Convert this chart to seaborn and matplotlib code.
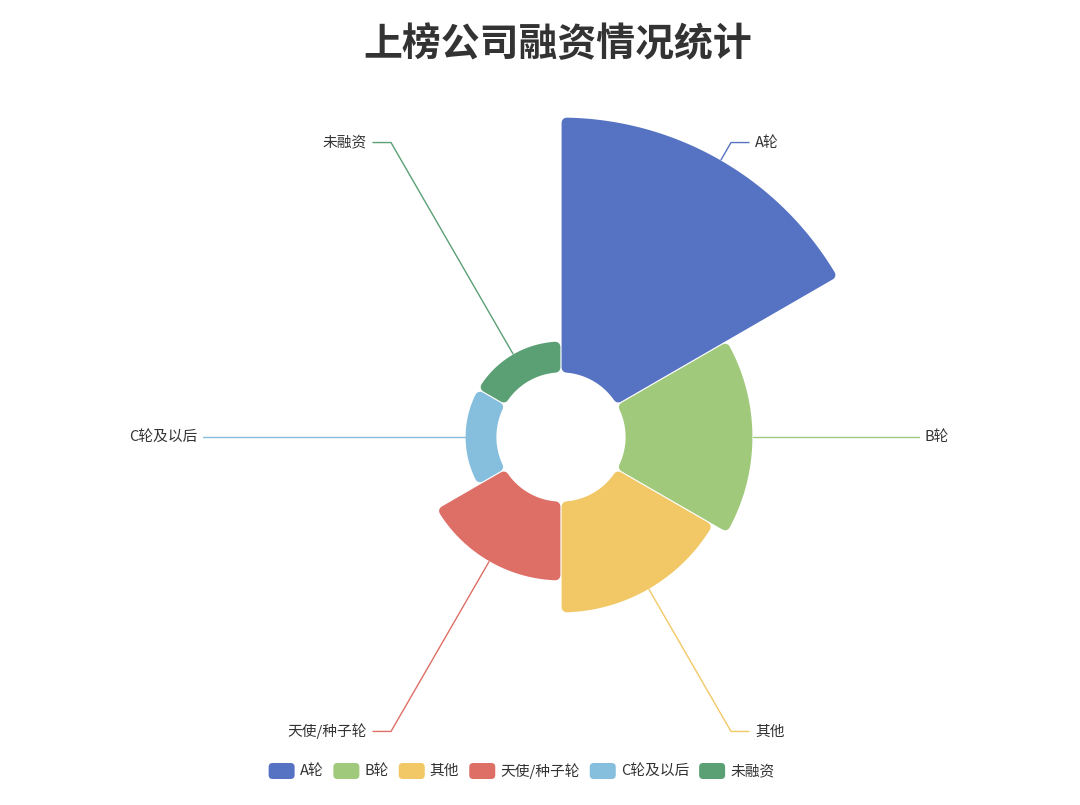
import numpy as np
import matplotlib
matplotlib.use("Agg")
import matplotlib.pyplot as plt
from matplotlib.path import Path
from matplotlib.patches import PathPatch, FancyBboxPatch
import seaborn as sns

# ---- data ----
categories = ["A轮", "B轮", "其他", "天使/种子轮", "C轮及以后", "未融资"]
values = [32, 16, 14, 10, 4, 4]
colors = ["#5672C2", "#A0C97B", "#F2C866", "#DE6F66", "#86BFDD", "#5BA074"]
title = "上榜公司融资情况统计"

sns.set_theme(style="white")
plt.rcParams["font.family"] = ["Noto Sans CJK SC", "DejaVu Sans"]
palette = sns.color_palette(colors)

W, H = 1080, 805
fig = plt.figure(figsize=(W / 100, H / 100), dpi=100)
ax = fig.add_axes([0, 0, 1, 1])
ax.set_xlim(0, W)
ax.set_ylim(H, 0)
ax.axis("off")

cx, cy = 561, 437
r0, rmax = 64, 320
corner = 5.0     # px corner radius
gap = 0.6        # px half gap between sectors
d = corner + gap
lw_pt = 2 * corner * 72 / 100

n = len(values)
vmax = max(values)
step = 360.0 / n  # rose type 'area': equal angles


def pt(theta_deg, r):
    t = np.deg2rad(theta_deg)
    return cx + r * np.sin(t), cy - r * np.cos(t)


for i, (v, col) in enumerate(zip(values, palette)):
    R = r0 + (rmax - r0) * v / vmax
    a1, a2 = i * step, (i + 1) * step
    ro, ri = R - d, r0 + d
    do = np.rad2deg(d / ro)
    di = np.rad2deg(d / ri)
    ang_o = np.linspace(a1 + do, a2 - do, 80)
    ang_i = np.linspace(a2 - di, a1 + di, 40)
    verts = [pt(a, ro) for a in ang_o] + [pt(a, ri) for a in ang_i]
    verts.append(verts[0])
    codes = [Path.MOVETO] + [Path.LINETO] * (len(verts) - 2) + [Path.CLOSEPOLY]
    patch = PathPatch(Path(verts, codes), facecolor=col, edgecolor=col,
                      linewidth=lw_pt, joinstyle="round", zorder=2)
    ax.add_patch(patch)

    # label with leader line
    mid = (a1 + a2) / 2
    x0, y0 = pt(mid, R)
    xe, ye = pt(mid, 340)
    side = 1 if np.sin(np.deg2rad(mid)) > 0 else -1
    x2 = xe + side * 18
    ax.plot([x0, xe, x2], [y0, ye, ye], color=col, lw=1.0, zorder=1,
            solid_joinstyle="miter")
    ax.text(x2 + side * 6, ye, categories[i], ha="left" if side > 0 else "right",
            va="center", fontsize=10.6, color="#333333")

# title
ax.text(558, 45, title, ha="center", va="center", fontsize=28,
        fontweight="bold", color="#333333")

# legend
fig.canvas.draw()
renderer = fig.canvas.get_renderer()
rw, rh = 26, 16
tgap, igap = 5, 10
ly = 771
texts = []
widths = []
for c in categories:
    t = ax.text(0, ly, c, ha="left", va="center", fontsize=10.6, color="#333333")
    bb = t.get_window_extent(renderer=renderer)
    texts.append(t)
    widths.append(bb.width)
total = sum(rw + tgap + w for w in widths) + igap * (n - 1)
x = 521.5 - total / 2
for i, (t, w) in enumerate(zip(texts, widths)):
    box = FancyBboxPatch((x, ly - rh / 2), rw, rh,
                         boxstyle="round,pad=0,rounding_size=4",
                         facecolor=palette[i], edgecolor="none", zorder=3)
    ax.add_patch(box)
    t.set_x(x + rw + tgap)
    x += rw + tgap + w + igap

fig.savefig("out.png", dpi=100, facecolor="white")
